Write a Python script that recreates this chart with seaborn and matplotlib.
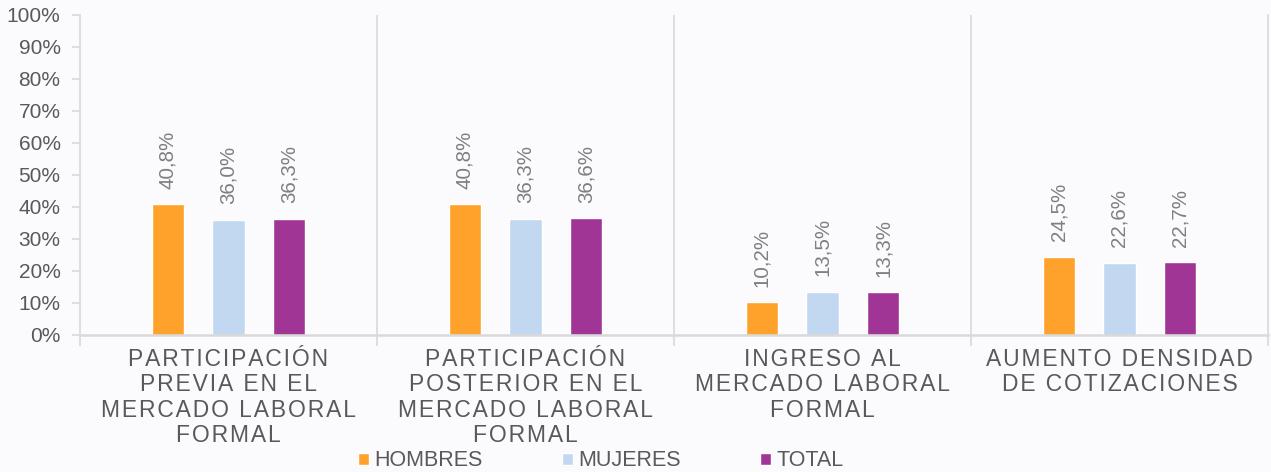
import matplotlib
matplotlib.use("Agg")
import matplotlib.pyplot as plt
import seaborn as sns
import pandas as pd
from matplotlib.patches import Patch

categories = ["PARTICIPACIÓN\nPREVIA EN EL\nMERCADO LABORAL\nFORMAL",
              "PARTICIPACIÓN\nPOSTERIOR EN EL\nMERCADO LABORAL\nFORMAL",
              "INGRESO AL\nMERCADO LABORAL\nFORMAL",
              "AUMENTO DENSIDAD\nDE COTIZACIONES"]
series = ["HOMBRES", "MUJERES", "TOTAL"]
hombres = [40.8, 40.8, 10.2, 24.5]
mujeres = [36.0, 36.3, 13.5, 22.6]
total = [36.3, 36.6, 13.3, 22.7]
colors = ["#FFA22B", "#C2D8F0", "#A03595"]

sns.set_theme(style="white")
plt.rcParams['font.family'] = ['Liberation Sans', 'DejaVu Sans']

rows = []
for i, c in enumerate(categories):
    for s, vals in zip(series, [hombres, mujeres, total]):
        rows.append({"cat": c, "serie": s, "val": vals[i]})
df = pd.DataFrame(rows)

bg = "#FBFAFD"
grid_c = "#D9D9D9"
text_c = "#595959"
fig = plt.figure(figsize=(12.71, 4.72), dpi=100, facecolor=bg)
ax = fig.add_axes([80/1271, 1-335/472, (1268-80)/1271, (335-15)/472])
ax.set_facecolor(bg)

sns.barplot(data=df, x="cat", y="val", hue="serie", palette=colors,
            hue_order=series, ax=ax, width=0.615, gap=0.0, legend=False,
            saturation=1)

# narrow bars around their dodged centres
for p in ax.patches:
    cx = p.get_x() + p.get_width() / 2
    p.set_width(0.108)
    p.set_x(cx - 0.054)

for p in ax.patches:
    h = p.get_height()
    ax.text(p.get_x() + p.get_width() / 2, h + 4.8,
            f"{h:.1f}".replace(".", ",") + "%", rotation=90,
            ha="center", va="bottom", fontsize=14.8, color="#7F7F7F")

ax.set_ylim(0, 100)
ax.set_xlim(-0.5, len(categories) - 0.5)
ax.set_yticks(range(0, 101, 10))
ax.set_yticklabels([f"{v}%" for v in range(0, 101, 10)], fontsize=15, color=text_c)
ax.tick_params(axis="y", length=6, color=grid_c, width=1.2, pad=8, left=True)

def spaced(t):
    return "\n".join("\u200a".join(list(line)) for line in t.split("\n"))

ax.set_xticks(range(len(categories)))
ax.set_xticklabels([spaced(c) for c in categories], fontsize=16.5, color=text_c,
                   linespacing=1.14)
ax.set_xticks([-0.5, 0.5, 1.5, 2.5, 3.5], minor=True)
ax.tick_params(axis="x", which="major", length=0, pad=9)
ax.tick_params(axis="x", which="minor", length=8, color=grid_c, width=1.2, bottom=True)
ax.set_xlabel("")
ax.set_ylabel("")

for x in [0.5, 1.5, 2.5]:
    ax.axvline(x, color=grid_c, lw=1.2)
ax.spines["top"].set_visible(False)
for sp in ["left", "right", "bottom"]:
    ax.spines[sp].set_color(grid_c)
    ax.spines[sp].set_linewidth(1.2)
ax.spines["bottom"].set_linewidth(1.8)

starts = [358, 562, 760]
for c, s, x0 in zip(colors, series, starts):
    fig.legend(handles=[Patch(facecolor=c, label=s)], loc="center left",
               bbox_to_anchor=(x0/1271, 1-461/472), frameon=False, fontsize=15.5,
               handlelength=0.5, handleheight=0.5, handletextpad=0.25,
               labelcolor=text_c, borderaxespad=0, borderpad=0)

fig.savefig("out.png", dpi=100, facecolor=bg)
